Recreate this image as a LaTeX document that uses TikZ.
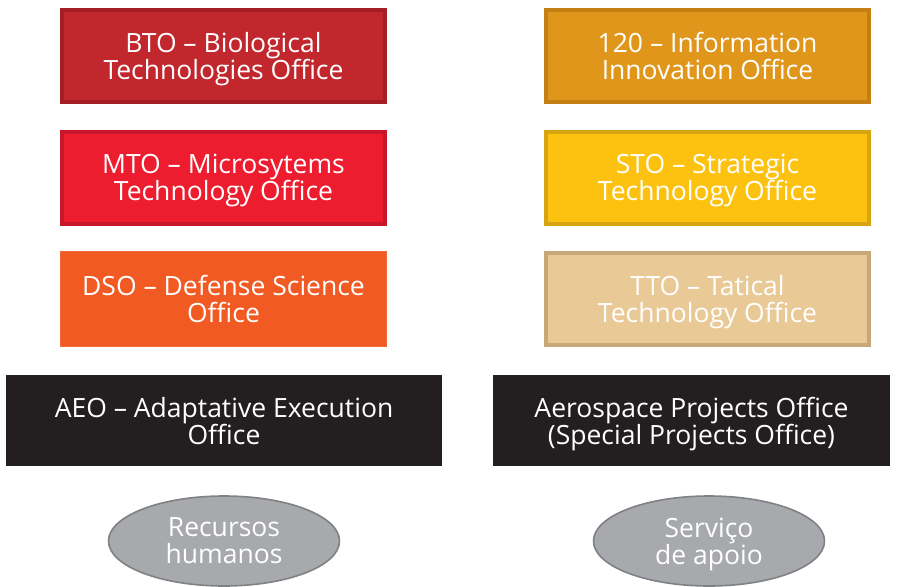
\documentclass[tikz,border=0pt]{standalone}
\usepackage{fontspec}
\setmainfont{Open Sans}
\usetikzlibrary{shapes.geometric}
\definecolor{btoF}{HTML}{C1272D}\definecolor{btoB}{HTML}{A21F25}
\definecolor{iioF}{HTML}{E0961A}\definecolor{iioB}{HTML}{C47F13}
\definecolor{mtoF}{HTML}{ED1C2E}\definecolor{mtoB}{HTML}{C8172B}
\definecolor{stoF}{HTML}{FDC20F}\definecolor{stoB}{HTML}{D9A412}
\definecolor{dsoF}{HTML}{F15A22}\definecolor{dsoB}{HTML}{F26A38}
\definecolor{ttoF}{HTML}{E9C996}\definecolor{ttoB}{HTML}{C8A779}
\definecolor{darkF}{HTML}{231F20}
\definecolor{ovalF}{HTML}{A7A9AC}\definecolor{ovalB}{HTML}{7F8184}
\tikzset{
  label font/.style={font=\fontsize{26.5}{27}\selectfont, text depth=0pt},
  office/.style={rectangle, line width=4pt, minimum width=323pt, minimum height=92pt,
    text=white, align=center, inner sep=0pt, label font},
  wide/.style={rectangle, minimum width=436pt, minimum height=91pt,
    fill=darkF, text=white, align=center, inner sep=0pt, label font},
  oval/.style={ellipse, draw=ovalB, fill=ovalF, line width=1.6pt,
    minimum width=231pt, minimum height=90pt, inner sep=0pt,
    text=white, align=center, label font},
}
\begin{document}
\begin{tikzpicture}[x=1pt,y=-1pt]
\useasboundingbox (0,0) rectangle (906,587);
\fill[white] (0,0) rectangle (906,587);
% left column
\node[office, draw=btoB, fill=btoF] (bto) at (223.5,56) {BTO -- Biological\\Technologies Office};
\node[office, draw=mtoB, fill=mtoF] (mto) at (223.5,177.5) {MTO -- Microsytems\\Technology Office};
\node[office, draw=dsoB, fill=dsoF, line width=1pt, minimum width=326pt, minimum height=95pt] (dso) at (223.5,299) {DSO -- Defense Science\\Office};
% right column
\node[office, draw=iioB, fill=iioF] (iio) at (707.5,56) {120 -- Information\\Innovation Office};
\node[office, draw=stoB, fill=stoF] (sto) at (707.5,177.5) {STO -- Strategic\\Technology Office};
\node[office, draw=ttoB, fill=ttoF] (tto) at (707.5,299) {TTO -- Tatical\\Technology Office};
% dark bars
\node[wide] (aeo) at (224,420.5) {AEO -- Adaptative Execution\\Office};
\node[wide, minimum width=397pt] (apo) at (691.5,420.5) {Aerospace Projects Office\\(Special Projects Office)};
% ovals
\node[oval] (rh) at (224,541) {Recursos\\humanos};
\node[oval] (sa) at (709,541) {Serviço\\de apoio};
\end{tikzpicture}
\end{document}
